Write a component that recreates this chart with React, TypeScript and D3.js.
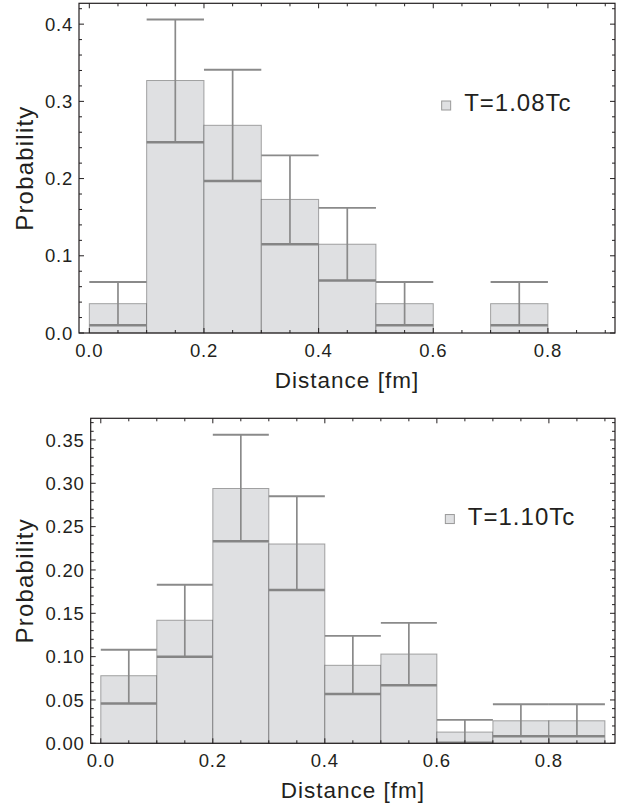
import React from 'react';
import * as d3 from 'd3';

// bin edges shared by both histograms (fm)
const binEdges = [0, 0.1, 0.2, 0.3, 0.4, 0.5, 0.6, 0.7, 0.8, 0.9];

// T = 1.08 Tc
const probA = [0.038, 0.327, 0.269, 0.173, 0.115, 0.038, 0, 0.038, 0];
const upperA = [0.066, 0.406, 0.341, 0.23, 0.162, 0.066, null, 0.066, null];
const lowerA = [0.01, 0.247, 0.197, 0.115, 0.068, 0.01, null, 0.01, null];

// T = 1.10 Tc
const probB = [0.078, 0.142, 0.294, 0.23, 0.09, 0.103, 0.013, 0.026, 0.026];
const upperB = [0.108, 0.183, 0.356, 0.285, 0.124, 0.139, 0.027, 0.045, 0.045];
const lowerB = [0.046, 0.1, 0.233, 0.177, 0.057, 0.067, 0.0005, 0.008, 0.008];

const xTicks = [0, 0.2, 0.4, 0.6, 0.8];
const yTicksA = [0, 0.1, 0.2, 0.3, 0.4];
const yTicksB = [0, 0.05, 0.1, 0.15, 0.2, 0.25, 0.3, 0.35];

const FONT = '"Liberation Sans", Arial, Helvetica, sans-serif';
const INK = '#231f20';
const BAR_FILL = '#dfe0e2';
const ERR = '#8a8a8a';

type PanelProps = {
  box: { left: number; right: number; top: number; bottom: number };
  xDomain: [number, number];
  yDomain: [number, number];
  prob: number[];
  upper: (number | null)[];
  lower: (number | null)[];
  yTicks: number[];
  yFormat: string;
  yMinorStep: number;
  legend: string;
};

const Panel = ({ box, xDomain, yDomain, prob, upper, lower, yTicks, yFormat, yMinorStep, legend }: PanelProps) => {
  const x = d3.scaleLinear().domain(xDomain).range([box.left, box.right]);
  const y = d3.scaleLinear().domain(yDomain).range([box.bottom, box.top]);
  const fy = d3.format(yFormat);
  const fx = d3.format('.1f');

  const xMinor = d3.range(0, 0.9001, 0.05).filter(v => !xTicks.some(t => Math.abs(t - v) < 1e-6));
  const yMinor = d3.range(0, yDomain[1], yMinorStep).filter(v => !yTicks.some(t => Math.abs(t - v) < 1e-6));

  const major = 5;
  const minor = 3;
  const midY = (box.top + box.bottom) / 2;
  const midX = (box.left + box.right) / 2;
  const legX = box.left + 0.685 * (box.right - box.left);
  const legY = box.top + 0.31 * (box.bottom - box.top);

  return (
    <g>
      {/* bars */}
      {prob.map((p, i) => p > 0 && (
        <rect key={'b' + i}
          x={x(binEdges[i])} y={y(p)}
          width={x(binEdges[i + 1]) - x(binEdges[i])}
          height={y(0) - y(p)}
          fill={BAR_FILL} stroke="#000" strokeOpacity={0.33} strokeWidth={1} />
      ))}
      {/* error bars */}
      {prob.map((p, i) => {
        const hi = upper[i];
        const lo = lower[i];
        if (hi == null || lo == null) return null;
        const x0 = x(binEdges[i]);
        const x1 = x(binEdges[i + 1]);
        const xc = (x0 + x1) / 2;
        return (
          <g key={'e' + i} stroke={ERR}>
            <line x1={xc} x2={xc} y1={y(lo)} y2={y(hi)} strokeWidth={1.7} />
            <line x1={x0} x2={x1} y1={y(hi)} y2={y(hi)} strokeWidth={1.9} />
            <line x1={x0} x2={x1} y1={y(lo)} y2={y(lo)} strokeWidth={2.5} stroke="#858585" />
          </g>
        );
      })}
      {/* frame */}
      <rect x={box.left} y={box.top} width={box.right - box.left} height={box.bottom - box.top}
        fill="none" stroke={INK} strokeWidth={1.2} />
      {/* ticks */}
      <g stroke={INK} strokeWidth={1}>
        {xTicks.map(t => (
          <g key={'xt' + t}>
            <line x1={x(t)} x2={x(t)} y1={box.bottom} y2={box.bottom - major} />
            <line x1={x(t)} x2={x(t)} y1={box.top} y2={box.top + major} />
          </g>
        ))}
        {xMinor.map(t => (
          <g key={'xm' + t}>
            <line x1={x(t)} x2={x(t)} y1={box.bottom} y2={box.bottom - minor} />
            <line x1={x(t)} x2={x(t)} y1={box.top} y2={box.top + minor} />
          </g>
        ))}
        {yTicks.map(t => (
          <g key={'yt' + t}>
            <line x1={box.left} x2={box.left + major} y1={y(t)} y2={y(t)} />
            <line x1={box.right} x2={box.right - major} y1={y(t)} y2={y(t)} />
          </g>
        ))}
        {yMinor.map(t => (
          <g key={'ym' + t}>
            <line x1={box.left} x2={box.left + minor} y1={y(t)} y2={y(t)} />
            <line x1={box.right} x2={box.right - minor} y1={y(t)} y2={y(t)} />
          </g>
        ))}
      </g>
      {/* tick labels */}
      <g fontFamily={FONT} fill={INK} fontSize={18.5} letterSpacing={0.8}>
        {xTicks.map(t => (
          <text key={'xl' + t} x={x(t)} y={box.bottom + 24} textAnchor="middle">{fx(t)}</text>
        ))}
        {yTicks.map(t => (
          <text key={'yl' + t} x={box.left - 6} y={y(t)} dy="0.36em" textAnchor="end">{fy(t)}</text>
        ))}
      </g>
      {/* axis labels */}
      <text x={midX} y={box.bottom + 55} textAnchor="middle" fontFamily={FONT} fontSize={22.5}
        letterSpacing={1} fill={INK}>Distance [fm]</text>
      <text transform={`translate(33,${midY}) rotate(-90)`} textAnchor="middle" fontFamily={FONT}
        fontSize={24} letterSpacing={1.2} fill={INK}>Probability</text>
      {/* legend */}
      <rect x={legX - 4.5} y={legY - 4.5} width={9} height={9} fill={BAR_FILL} stroke="#999" strokeWidth={1} />
      <text x={legX + 18} y={legY + 5.5} fontFamily={FONT} fontSize={24} letterSpacing={1} fill={INK}>{legend}</text>
    </g>
  );
};

export default function App() {
  return (
    <div style={{ position: 'absolute', left: 0, top: 0 }}>
      <svg width={634} height={808} style={{ display: 'block', background: '#fff' }}>
        <Panel box={{ left: 79, right: 615, top: 3.3, bottom: 333 }}
          xDomain={[-0.018, 0.917]} yDomain={[0, 0.427]}
          prob={probA} upper={upperA} lower={lowerA}
          yTicks={yTicksA} yFormat=".1f" yMinorStep={0.02} legend="T=1.08Tc" />
        <Panel box={{ left: 90.7, right: 615, top: 418.3, bottom: 743.3 }}
          xDomain={[-0.018, 0.918]} yDomain={[0, 0.375]}
          prob={probB} upper={upperB} lower={lowerB}
          yTicks={yTicksB} yFormat=".2f" yMinorStep={0.01} legend="T=1.10Tc" />
      </svg>
    </div>
  );
}
